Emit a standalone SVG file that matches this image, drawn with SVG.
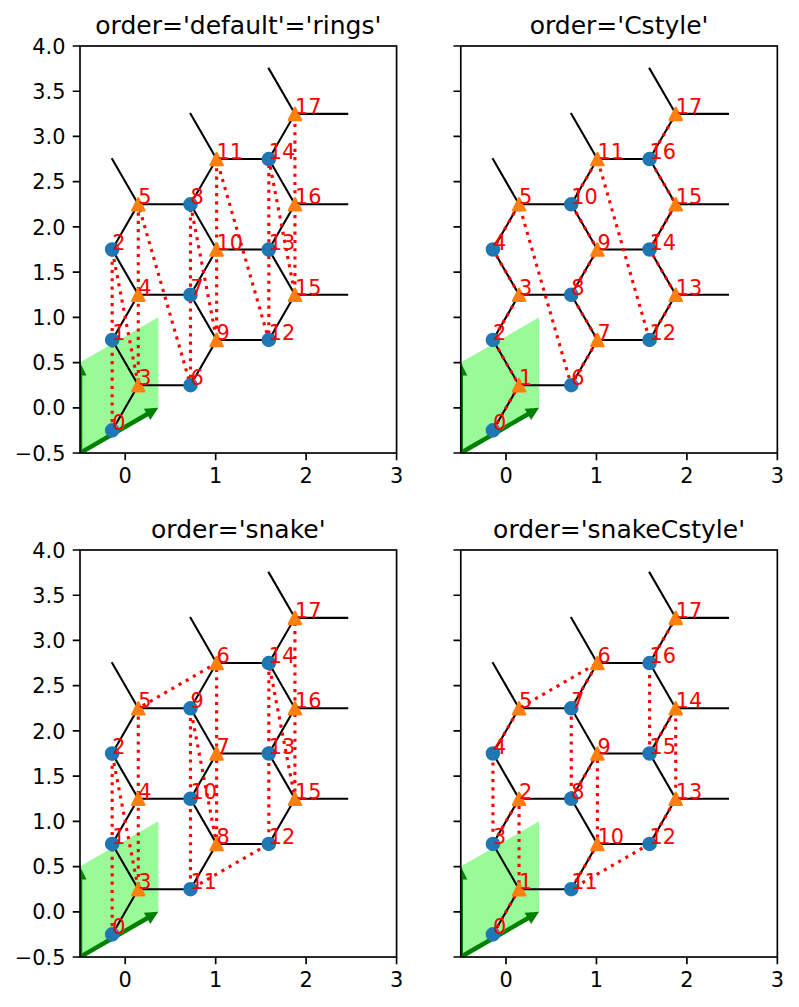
<svg xmlns="http://www.w3.org/2000/svg" xmlns:xlink="http://www.w3.org/1999/xlink" width="799" height="1007" viewBox="0 0 799 1007">
<style>
  .bond{fill:none;stroke:#000;stroke-width:2.08;stroke-linecap:square}
  .order{fill:none;stroke:#ff0000;stroke-width:3.125;stroke-dasharray:3.125 5.156;stroke-linecap:butt;stroke-linejoin:round}
  .lbl{font-family:'DejaVu Sans',sans-serif;font-size:20.83px;fill:#ff0000}
  .tl{font-family:'DejaVu Sans',sans-serif;font-size:20.83px;fill:#000}
  .xt{text-anchor:middle}
  .yt{text-anchor:end}
  .title{font-family:'DejaVu Sans',sans-serif;font-size:25px;fill:#000;text-anchor:middle}
  .spine{fill:none;stroke:#000;stroke-width:1.67}
  .tick{fill:none;stroke:#000;stroke-width:1.67}
  .sA{fill:#1f77b4;stroke:#1f77b4;stroke-width:2.08}
  .sB{fill:#ff7f0e;stroke:#ff7f0e;stroke-width:2.08;stroke-linejoin:round}
</style>
<defs>
  <!-- axes area in data-origin coordinates (1 unit = 90.45 px) -->
  <clipPath id="axclip">
    <rect x="-45.225" y="-361.8" width="316.575" height="407.025"/>
  </clipPath>
  <circle id="mA" r="6.25"/>
  <path id="mB" d="M0,-6.25 L-6.25,6.25 L6.25,6.25 Z"/>

  <!-- unit cell and lattice vectors -->
  <g id="cell" clip-path="url(#axclip)">
    <polygon points="-45.225,45.225 33.11,0 33.11,-90.45 -45.225,-45.225" fill="#98fb98"/>
    <polygon points="-44.1,47.17 22.975,8.449 25.1,12.129 33.11,0 18.6,0.871 20.725,4.551 -46.35,43.276" fill="#008000"/>
    <polygon points="-43,45.225 -43,-32.225 -38.725,-32.225 -45.225,-45.225 -51.725,-32.225 -47.45,-32.225 -47.45,45.225" fill="#008000"/>
  </g>

  <!-- honeycomb bonds -->
  <path id="bonds" class="bond" d="
    M13.06,-22.61 L-13.06,-67.84 M13.06,-22.61 L-13.06,22.61 M13.06,-22.61 L65.27,-22.61
    M13.06,-113.06 L-13.06,-158.29 M13.06,-113.06 L-13.06,-67.84 M13.06,-113.06 L65.27,-113.06
    M13.06,-203.51 L-13.06,-248.74 M13.06,-203.51 L-13.06,-158.29 M13.06,-203.51 L65.27,-203.51
    M91.39,-67.84 L65.27,-113.06 M91.39,-67.84 L65.27,-22.61 M91.39,-67.84 L143.6,-67.84
    M91.39,-158.29 L65.27,-203.51 M91.39,-158.29 L65.27,-113.06 M91.39,-158.29 L143.6,-158.29
    M91.39,-248.74 L65.27,-293.96 M91.39,-248.74 L65.27,-203.51 M91.39,-248.74 L143.6,-248.74
    M169.72,-113.06 L143.6,-158.29 M169.72,-113.06 L143.6,-67.84 M169.72,-113.06 L221.94,-113.06
    M169.72,-203.51 L143.6,-248.74 M169.72,-203.51 L143.6,-158.29 M169.72,-203.51 L221.94,-203.51
    M169.72,-293.96 L143.6,-339.19 M169.72,-293.96 L143.6,-248.74 M169.72,-293.96 L221.94,-293.96"/>

  <!-- sublattice sites -->
  <g id="sites">
    <use xlink:href="#mA" class="sA" x="-13.06" y="22.61"/>
    <use xlink:href="#mA" class="sA" x="-13.06" y="-67.84"/>
    <use xlink:href="#mA" class="sA" x="-13.06" y="-158.29"/>
    <use xlink:href="#mA" class="sA" x="65.27" y="-22.61"/>
    <use xlink:href="#mA" class="sA" x="65.27" y="-113.06"/>
    <use xlink:href="#mA" class="sA" x="65.27" y="-203.51"/>
    <use xlink:href="#mA" class="sA" x="143.6" y="-67.84"/>
    <use xlink:href="#mA" class="sA" x="143.6" y="-158.29"/>
    <use xlink:href="#mA" class="sA" x="143.6" y="-248.74"/>
    <use xlink:href="#mB" class="sB" x="13.06" y="-22.61"/>
    <use xlink:href="#mB" class="sB" x="13.06" y="-113.06"/>
    <use xlink:href="#mB" class="sB" x="13.06" y="-203.51"/>
    <use xlink:href="#mB" class="sB" x="91.39" y="-67.84"/>
    <use xlink:href="#mB" class="sB" x="91.39" y="-158.29"/>
    <use xlink:href="#mB" class="sB" x="91.39" y="-248.74"/>
    <use xlink:href="#mB" class="sB" x="169.72" y="-113.06"/>
    <use xlink:href="#mB" class="sB" x="169.72" y="-203.51"/>
    <use xlink:href="#mB" class="sB" x="169.72" y="-293.96"/>
  </g>

  <!-- axes frame with tick marks -->
  <g id="frame">
    <rect class="spine" x="-45.225" y="-361.8" width="316.575" height="407.025"/>
    <path class="tick" d="M0,45.225 v7.29 M90.45,45.225 v7.29 M180.9,45.225 v7.29 M271.35,45.225 v7.29
      M-45.225,-361.8 h-7.29 M-45.225,-316.575 h-7.29 M-45.225,-271.35 h-7.29 M-45.225,-226.125 h-7.29
      M-45.225,-180.9 h-7.29 M-45.225,-135.675 h-7.29 M-45.225,-90.45 h-7.29 M-45.225,-45.225 h-7.29
      M-45.225,0 h-7.29 M-45.225,45.225 h-7.29"/>
  </g>
  <g id="xlabels" class="tl xt">
    <text x="0" y="75">0</text>
    <text x="90.45" y="75">1</text>
    <text x="180.9" y="75">2</text>
    <text x="271.35" y="75">3</text>
  </g>
  <g id="ylabels" class="tl yt">
    <text x="-59.8" y="-354.2">4.0</text>
    <text x="-59.8" y="-308.975">3.5</text>
    <text x="-59.8" y="-263.75">3.0</text>
    <text x="-59.8" y="-218.525">2.5</text>
    <text x="-59.8" y="-173.3">2.0</text>
    <text x="-59.8" y="-128.075">1.5</text>
    <text x="-59.8" y="-82.85">1.0</text>
    <text x="-59.8" y="-37.625">0.5</text>
    <text x="-59.8" y="7.6">0.0</text>
    <text x="-59.8" y="52.825">−0.5</text>
  </g>
</defs>

<rect width="799" height="1007" fill="#fff"/>

<!-- order='default'='rings' -->
<g id="panel-rings" transform="translate(125.225,407.8)">
  <use xlink:href="#cell"/>
  <use xlink:href="#bonds"/>
  <path class="order" d="M-13.06,22.61 L-13.06,-67.84 L-13.06,-158.29 L13.06,-22.61 L13.06,-113.06 L13.06,-203.51 L65.27,-22.61 L65.27,-113.06 L65.27,-203.51 L91.39,-67.84 L91.39,-158.29 L91.39,-248.74 L143.6,-67.84 L143.6,-158.29 L143.6,-248.74 L169.72,-113.06 L169.72,-203.51 L169.72,-293.96"/>
  <use xlink:href="#sites"/>
  <use xlink:href="#frame"/>
  <use xlink:href="#xlabels"/>
  <use xlink:href="#ylabels"/>
  <g class="lbl">
    <text x="-13.06" y="22.61">0</text>
    <text x="-13.06" y="-67.84">1</text>
    <text x="-13.06" y="-158.29">2</text>
    <text x="13.06" y="-22.61">3</text>
    <text x="13.06" y="-113.06">4</text>
    <text x="13.06" y="-203.51">5</text>
    <text x="65.27" y="-22.61">6</text>
    <text x="65.27" y="-113.06">7</text>
    <text x="65.27" y="-203.51">8</text>
    <text x="91.39" y="-67.84">9</text>
    <text x="91.39" y="-158.29">10</text>
    <text x="91.39" y="-248.74">11</text>
    <text x="143.6" y="-67.84">12</text>
    <text x="143.6" y="-158.29">13</text>
    <text x="143.6" y="-248.74">14</text>
    <text x="169.72" y="-113.06">15</text>
    <text x="169.72" y="-203.51">16</text>
    <text x="169.72" y="-293.96">17</text>
  </g>
  <text class="title" x="113.06" y="-374.3">order='default'='rings'</text>
</g>

<!-- order='Cstyle' -->
<g id="panel-cstyle" transform="translate(506,407.8)">
  <use xlink:href="#cell"/>
  <use xlink:href="#bonds"/>
  <path class="order" d="M-13.06,22.61 L13.06,-22.61 L-13.06,-67.84 L13.06,-113.06 L-13.06,-158.29 L13.06,-203.51 L65.27,-22.61 L91.39,-67.84 L65.27,-113.06 L91.39,-158.29 L65.27,-203.51 L91.39,-248.74 L143.6,-67.84 L169.72,-113.06 L143.6,-158.29 L169.72,-203.51 L143.6,-248.74 L169.72,-293.96"/>
  <use xlink:href="#sites"/>
  <use xlink:href="#frame"/>
  <use xlink:href="#xlabels"/>
  <g class="lbl">
    <text x="-13.06" y="22.61">0</text>
    <text x="13.06" y="-22.61">1</text>
    <text x="-13.06" y="-67.84">2</text>
    <text x="13.06" y="-113.06">3</text>
    <text x="-13.06" y="-158.29">4</text>
    <text x="13.06" y="-203.51">5</text>
    <text x="65.27" y="-22.61">6</text>
    <text x="91.39" y="-67.84">7</text>
    <text x="65.27" y="-113.06">8</text>
    <text x="91.39" y="-158.29">9</text>
    <text x="65.27" y="-203.51">10</text>
    <text x="91.39" y="-248.74">11</text>
    <text x="143.6" y="-67.84">12</text>
    <text x="169.72" y="-113.06">13</text>
    <text x="143.6" y="-158.29">14</text>
    <text x="169.72" y="-203.51">15</text>
    <text x="143.6" y="-248.74">16</text>
    <text x="169.72" y="-293.96">17</text>
  </g>
  <text class="title" x="113.06" y="-374.3">order='Cstyle'</text>
</g>

<!-- order='snake' -->
<g id="panel-snake" transform="translate(125.225,911.8)">
  <use xlink:href="#cell"/>
  <use xlink:href="#bonds"/>
  <path class="order" d="M-13.06,22.61 L-13.06,-67.84 L-13.06,-158.29 L13.06,-22.61 L13.06,-113.06 L13.06,-203.51 L91.39,-248.74 L91.39,-158.29 L91.39,-67.84 L65.27,-203.51 L65.27,-113.06 L65.27,-22.61 L143.6,-67.84 L143.6,-158.29 L143.6,-248.74 L169.72,-113.06 L169.72,-203.51 L169.72,-293.96"/>
  <use xlink:href="#sites"/>
  <use xlink:href="#frame"/>
  <use xlink:href="#xlabels"/>
  <use xlink:href="#ylabels"/>
  <g class="lbl">
    <text x="-13.06" y="22.61">0</text>
    <text x="-13.06" y="-67.84">1</text>
    <text x="-13.06" y="-158.29">2</text>
    <text x="13.06" y="-22.61">3</text>
    <text x="13.06" y="-113.06">4</text>
    <text x="13.06" y="-203.51">5</text>
    <text x="91.39" y="-248.74">6</text>
    <text x="91.39" y="-158.29">7</text>
    <text x="91.39" y="-67.84">8</text>
    <text x="65.27" y="-203.51">9</text>
    <text x="65.27" y="-113.06">10</text>
    <text x="65.27" y="-22.61">11</text>
    <text x="143.6" y="-67.84">12</text>
    <text x="143.6" y="-158.29">13</text>
    <text x="143.6" y="-248.74">14</text>
    <text x="169.72" y="-113.06">15</text>
    <text x="169.72" y="-203.51">16</text>
    <text x="169.72" y="-293.96">17</text>
  </g>
  <text class="title" x="113.06" y="-374.3">order='snake'</text>
</g>

<!-- order='snakeCstyle' -->
<g id="panel-snakecstyle" transform="translate(506,911.8)">
  <use xlink:href="#cell"/>
  <use xlink:href="#bonds"/>
  <path class="order" d="M-13.06,22.61 L13.06,-22.61 L13.06,-113.06 L-13.06,-67.84 L-13.06,-158.29 L13.06,-203.51 L91.39,-248.74 L65.27,-203.51 L65.27,-113.06 L91.39,-158.29 L91.39,-67.84 L65.27,-22.61 L143.6,-67.84 L169.72,-113.06 L169.72,-203.51 L143.6,-158.29 L143.6,-248.74 L169.72,-293.96"/>
  <use xlink:href="#sites"/>
  <use xlink:href="#frame"/>
  <use xlink:href="#xlabels"/>
  <g class="lbl">
    <text x="-13.06" y="22.61">0</text>
    <text x="13.06" y="-22.61">1</text>
    <text x="13.06" y="-113.06">2</text>
    <text x="-13.06" y="-67.84">3</text>
    <text x="-13.06" y="-158.29">4</text>
    <text x="13.06" y="-203.51">5</text>
    <text x="91.39" y="-248.74">6</text>
    <text x="65.27" y="-203.51">7</text>
    <text x="65.27" y="-113.06">8</text>
    <text x="91.39" y="-158.29">9</text>
    <text x="91.39" y="-67.84">10</text>
    <text x="65.27" y="-22.61">11</text>
    <text x="143.6" y="-67.84">12</text>
    <text x="169.72" y="-113.06">13</text>
    <text x="169.72" y="-203.51">14</text>
    <text x="143.6" y="-158.29">15</text>
    <text x="143.6" y="-248.74">16</text>
    <text x="169.72" y="-293.96">17</text>
  </g>
  <text class="title" x="113.06" y="-374.3">order='snakeCstyle'</text>
</g>
</svg>
